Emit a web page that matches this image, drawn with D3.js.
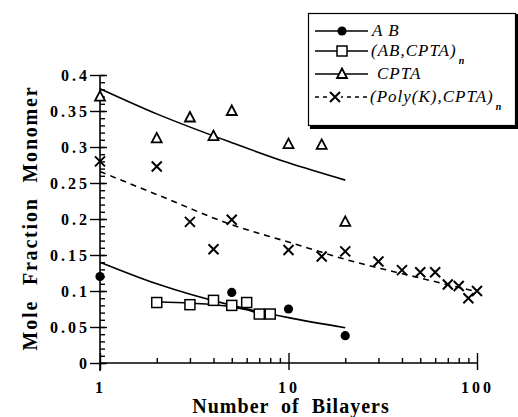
<!DOCTYPE html>
<html><head><meta charset="utf-8">
<script src="https://cdn.jsdelivr.net/npm/d3@7"></script>
<style>
body{margin:0;background:#fff}
svg{display:block}
</style></head><body>
<svg id="chart" width="518" height="417"></svg>
<script>
// A B monolayers
const abX = [1, 5, 10, 20];
const abY = [0.12, 0.098, 0.075, 0.038];
const abFitX = [1, 2, 5, 10, 20];
const abFitY = [0.14, 0.11, 0.08, 0.063, 0.049];
// (AB,CPTA)n multilayers
const abCptaX = [2, 3, 4, 5, 6, 7, 8];
const abCptaY = [0.084, 0.081, 0.087, 0.080, 0.084, 0.068, 0.068];
const abCptaFitX = [2, 3, 4, 5, 6, 7, 8];
const abCptaFitY = [0.085, 0.083, 0.081, 0.078, 0.074, 0.069, 0.068];
// CPTA
const cptaX = [1, 2, 3, 4, 5, 10, 15, 20];
const cptaY = [0.37, 0.312, 0.341, 0.315, 0.35, 0.304, 0.303, 0.196];
const cptaFitX = [1, 2, 5, 10, 20];
const cptaFitY = [0.381, 0.346, 0.306, 0.278, 0.254];
// (Poly(K),CPTA)n multilayers
const polyX = [1, 2, 3, 4, 5, 10, 15, 20, 30, 40, 50, 60, 70, 80, 90, 100];
const polyY = [0.28, 0.273, 0.196, 0.158, 0.199, 0.157, 0.148, 0.155, 0.141, 0.129, 0.126, 0.126, 0.109, 0.107, 0.090, 0.100];
const polyFitX = [1, 2, 5, 10, 20, 50, 100];
const polyFitY = [0.266, 0.234, 0.192, 0.168, 0.144, 0.118, 0.099];

// axis ticks
const xMajor = [1, 10, 100];
const xMinor = [2, 3, 4, 5, 6, 7, 8, 9, 20, 30, 40, 50, 60, 70, 80, 90];
const xTickLabels = ["1", "10", "100"];
const yMajor = [0, 0.05, 0.1, 0.15, 0.2, 0.25, 0.3, 0.35, 0.4];
const yMinor = d3.range(0, 41).map(i => i / 100);
const yTickLabels = ["0", "0.05", "0.1", "0.15", "0.2", "0.25", "0.3", "0.35", "0.4"];

const legendLabels = ["A B", "(AB,CPTA)", "CPTA", "(Poly(K),CPTA)"];

const svg = d3.select("#chart");
const x = d3.scaleLog().domain([1, 100]).range([100, 477]);
const y = d3.scaleLinear().domain([0, 0.4]).range([363, 75]);

const SERIF = "Liberation Serif";

function styleAxis(g) {
  g.attr("font-family", SERIF).attr("font-size", 16).attr("font-weight", "bold");
  g.select(".domain").remove();
  g.selectAll(".tick line").attr("stroke", "#000").attr("stroke-width", 1.4);
  g.selectAll(".tick text")
    .attr("fill", "#000")
    .attr("font-family", SERIF)
    .attr("font-weight", "bold")
    .attr("font-size", 16)
    .attr("letter-spacing", 3);
}

// y axis: long ticks crossing the line, minor ticks inside
svg.append("g").attr("transform", "translate(100,0)")
  .call(d3.axisRight(y).tickValues(yMinor).tickSize(5).tickFormat(""))
  .call(styleAxis);
svg.append("g").attr("transform", "translate(100,0)")
  .call(d3.axisRight(y).tickValues(yMajor).tickSize(7).tickFormat(""))
  .call(styleAxis);
svg.append("g").attr("transform", "translate(100,0)")
  .call(d3.axisLeft(y).tickValues(yMajor).tickSize(10).tickPadding(0)
    .tickFormat((d, i) => yTickLabels[i]))
  .call(styleAxis);

// x axis
svg.append("g").attr("transform", "translate(0,363)")
  .call(d3.axisTop(x).tickValues(xMinor).tickSize(5).tickFormat(""))
  .call(styleAxis);
svg.append("g").attr("transform", "translate(0,363)")
  .call(d3.axisTop(x).tickValues(xMajor).tickSize(10).tickFormat(""))
  .call(styleAxis);
svg.append("g").attr("transform", "translate(0,363)")
  .call(d3.axisBottom(x).tickValues(xMajor).tickSize(7).tickPadding(12)
    .tickFormat((d, i) => xTickLabels[i]))
  .call(styleAxis);

// axis lines
svg.append("line").attr("x1", x(1)).attr("x2", x(1))
  .attr("y1", y(0.4)).attr("y2", y(0) + 8)
  .attr("stroke", "#000").attr("stroke-width", 1.6);
svg.append("line").attr("x1", x(1)).attr("x2", x(100))
  .attr("y1", y(0)).attr("y2", y(0))
  .attr("stroke", "#000").attr("stroke-width", 1.6);

// axis titles
svg.append("text")
  .attr("x", 291).attr("y", 413)
  .attr("text-anchor", "middle")
  .attr("font-family", SERIF).attr("font-weight", "bold")
  .attr("font-size", 20).attr("letter-spacing", 1).attr("word-spacing", 6)
  .text("Number of Bilayers");
svg.append("text")
  .attr("transform", "translate(37,218) rotate(-90)")
  .attr("text-anchor", "middle")
  .attr("font-family", SERIF).attr("font-weight", "bold")
  .attr("font-size", 20).attr("letter-spacing", 1.8).attr("word-spacing", 8)
  .text("Mole Fraction Monomer");

// fitted curves
const zip = (xs, ys) => xs.map((v, i) => [v, ys[i]]);
const line = d3.line().x(d => x(d[0])).y(d => y(d[1])).curve(d3.curveMonotoneX);
const plot = svg.append("g");
function fit(xs, ys, dash) {
  plot.append("path").datum(zip(xs, ys))
    .attr("d", line).attr("fill", "none").attr("stroke", "#000")
    .attr("stroke-width", 1.6).attr("stroke-dasharray", dash || null);
}
fit(abFitX, abFitY);
fit(abCptaFitX, abCptaFitY);
fit(cptaFitX, cptaFitY);
fit(polyFitX, polyFitY, "6,5");

// markers
function circleMark(g) {
  g.append("circle").attr("r", 4.6).attr("fill", "#000");
}
function squareMark(g) {
  g.append("rect").attr("x", -5).attr("y", -5).attr("width", 10).attr("height", 10)
    .attr("fill", "#fff").attr("stroke", "#000").attr("stroke-width", 1.5);
}
function triMark(g) {
  g.append("path").attr("d", "M0,-5.5L5,4L-5,4Z")
    .attr("fill", "#fff").attr("stroke", "#000").attr("stroke-width", 1.8);
}
function crossMark(g) {
  g.append("path").attr("d", "M-5,-5L5,5M-5,5L5,-5")
    .attr("fill", "none").attr("stroke", "#000").attr("stroke-width", 2);
}
function points(xs, ys, mark) {
  zip(xs, ys).forEach(d => {
    const g = plot.append("g").attr("transform", `translate(${x(d[0])},${y(d[1])})`);
    mark(g);
  });
}
points(abCptaX, abCptaY, squareMark);
points(abX, abY, circleMark);
points(cptaX, cptaY, triMark);
points(polyX, polyY, crossMark);

// legend
const lg = svg.append("g");
lg.append("path").attr("d", "M310,127.5H516.5V14")
  .attr("fill", "none").attr("stroke", "#000").attr("stroke-width", 3);
lg.append("rect").attr("x", 308.5).attr("y", 13.5).attr("width", 207).attr("height", 112)
  .attr("fill", "#fff").attr("stroke", "#000").attr("stroke-width", 1.2);
const rowsY = [31, 51, 74, 97];
const marks = [circleMark, squareMark, triMark, crossMark];
const textX = [372, 371, 377, 370];
const hasSub = [false, true, false, true];
legendLabels.forEach((lab, i) => {
  const ry = rowsY[i];
  lg.append("line").attr("x1", 315).attr("x2", 368).attr("y1", ry).attr("y2", ry)
    .attr("stroke", "#000").attr("stroke-width", 1.5)
    .attr("stroke-dasharray", i === 3 ? "4,4" : null);
  const mx = i === 3 ? 335 : 342;
  const g = lg.append("g").attr("transform", `translate(${mx},${ry})`);
  if (i === 3) g.append("rect").attr("x", -6).attr("y", -6).attr("width", 12).attr("height", 12).attr("fill", "#fff");
  marks[i](g);
  const t = lg.append("text").attr("x", textX[i]).attr("y", ry + 5)
    .attr("font-family", SERIF).attr("font-style", "italic")
    .attr("font-size", 17).attr("letter-spacing", 1)
    .text(lab);
  if (hasSub[i]) {
    t.append("tspan").attr("dx", 2).attr("dy", 8)
      .attr("font-size", 10).attr("font-weight", "bold").text("n");
  }
});
</script>
</body></html>
